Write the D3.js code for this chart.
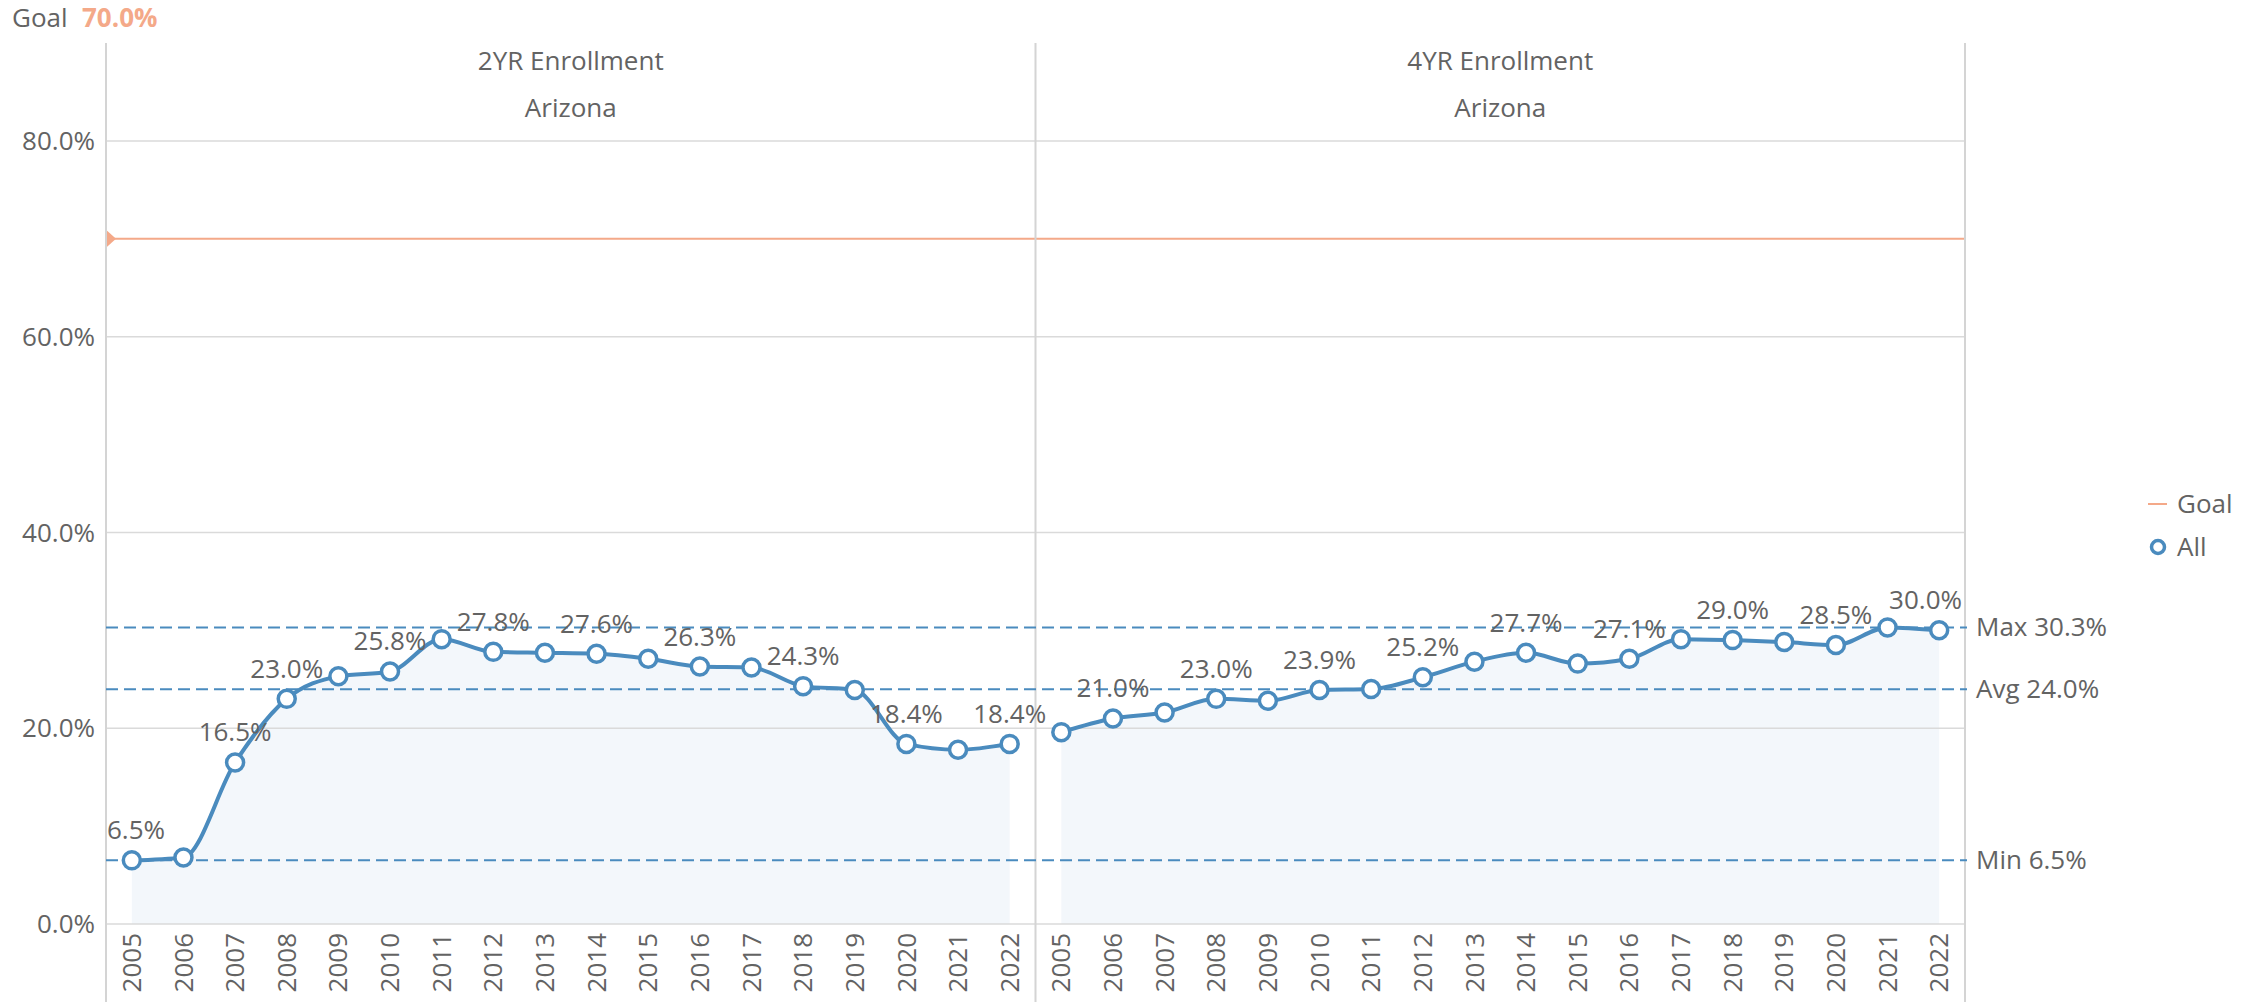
<html>
<head>
  <script src="https://d3js.org/d3.v7.min.js"></script>
  <style>
  body { margin: 0; background: #fff; }
  svg { display: block; font-family: "Open Sans", sans-serif; }
  .lbl { fill: #636363; font-size: 26px; }
  .grid line { stroke: #dadada; stroke-width: 1.5; }
  .vline { stroke: #d4d4d4; stroke-width: 2; }
  </style>
</head>
<body>
  <svg id="chart" width="2244" height="1002"></svg>
  <script>

var years = ["2005", "2006", "2007", "2008", "2009", "2010", "2011", "2012", "2013",
  "2014", "2015", "2016", "2017", "2018", "2019", "2020", "2021", "2022"];
var panels = ["2YR Enrollment", "4YR Enrollment"];
var state = "Arizona";
var enroll2yr = [6.5, 6.8, 16.5, 23.0, 25.3, 25.8, 29.1, 27.8, 27.7, 27.6, 27.1, 26.3, 26.2, 24.3, 23.9, 18.4, 17.8, 18.4];
var enroll4yr = [19.6, 21.0, 21.6, 23.0, 22.8, 23.9, 24.0, 25.2, 26.8, 27.7, 26.6, 27.1, 29.1, 29.0, 28.8, 28.5, 30.3, 30.0];
// years that get a value label (the rest are hidden to avoid overlap)
var labeled2yr = ["2005", "2007", "2008", "2010", "2012", "2014", "2016", "2018", "2020", "2022"];
var labeled4yr = ["2006", "2008", "2010", "2012", "2014", "2016", "2018", "2020", "2022"];
var goal = 70.0;
var yTicks = [0, 20, 40, 60, 80];

var blue = "#4a8bbe", salmon = "#f4a989";
var svg = d3.select("#chart");
var plotL = 106, plotR = 1965, plotT = 43, plotB = 924;

var y = d3.scaleLinear().domain([0, 90]).range([plotB, plotT]);
var facet = d3.scaleBand().domain(panels).range([plotL, plotR]);
var fmt = function(v) { return d3.format(".1f")(v) + "%"; };

var series = [enroll2yr, enroll4yr];
var labeled = [labeled2yr, labeled4yr];
var all = enroll2yr.concat(enroll4yr);
var stats = [
  {name: "Max", v: d3.max(all)},
  {name: "Avg", v: d3.mean(all)},
  {name: "Min", v: d3.min(all)}
];

function xFor(p) {
  return d3.scaleBand().domain(years).range([facet(p), facet(p) + facet.bandwidth()]);
}

// shaded areas first, grid goes on top of them
panels.forEach(function(p, i) {
  var x = xFor(p);
  var area = d3.area().curve(d3.curveMonotoneX)
    .x(function(d, j) { return x(years[j]) + x.bandwidth() / 2; })
    .y0(plotB).y1(function(d) { return y(d); });
  svg.append("path").datum(series[i]).attr("d", area).attr("fill", "#f3f7fb");
});

// gridlines
svg.append("g").attr("class", "grid")
  .selectAll("line").data(yTicks).enter().append("line")
  .attr("x1", plotL).attr("x2", plotR)
  .attr("y1", function(d) { return y(d); }).attr("y2", function(d) { return y(d); });

svg.append("g").selectAll("text").data(yTicks).enter().append("text")
  .attr("class", "lbl")
  .attr("x", 95).attr("y", function(d) { return y(d); })
  .attr("dy", "0.35em").attr("text-anchor", "end")
  .text(function(d) { return fmt(d); });

// goal line + marker
svg.append("line")
  .attr("x1", plotL).attr("x2", plotR)
  .attr("y1", y(goal)).attr("y2", y(goal))
  .attr("stroke", salmon).attr("stroke-width", 2);
svg.append("path")
  .attr("d", "M" + plotL + "," + (y(goal) - 9) + "L" + (plotL + 10) + "," + y(goal) + "L" + plotL + "," + (y(goal) + 9) + "Z")
  .attr("fill", salmon);

// vertical frame lines
[plotL].concat(panels.map(function(p) { return facet(p) + facet.bandwidth(); })).forEach(function(xv) {
  svg.append("line").attr("class", "vline")
    .attr("x1", xv).attr("x2", xv).attr("y1", plotT).attr("y2", 1002);
});

panels.forEach(function(p, i) {
  var x = xFor(p);
  var g = svg.append("g");

  g.append("text").attr("class", "lbl")
    .attr("x", facet(p) + facet.bandwidth() / 2).attr("y", 70)
    .attr("text-anchor", "middle").text(p);
  g.append("text").attr("class", "lbl")
    .attr("x", facet(p) + facet.bandwidth() / 2).attr("y", 117)
    .attr("text-anchor", "middle").text(state);

  // year ticks
  g.selectAll(".yr").data(years).enter().append("text")
    .attr("class", "lbl")
    .attr("transform", function(d) { return "translate(" + (x(d) + x.bandwidth() / 2) + ",933) rotate(-90)"; })
    .attr("dy", "0.35em").attr("text-anchor", "end")
    .text(function(d) { return d; });
});

// average / min / max reference lines
stats.forEach(function(s) {
  svg.append("line")
    .attr("x1", plotL).attr("x2", plotR + 2)
    .attr("y1", y(s.v)).attr("y2", y(s.v))
    .attr("stroke", blue).attr("stroke-width", 2)
    .attr("stroke-dasharray", "12,6");
  svg.append("text").attr("class", "lbl")
    .attr("x", 1976).attr("y", y(s.v)).attr("dy", "0.35em")
    .text(s.name + " " + fmt(s.v));
});

panels.forEach(function(p, i) {
  var x = xFor(p);
  var cx = function(d, j) { return x(years[j]) + x.bandwidth() / 2; };
  var data = series[i];
  var g = svg.append("g");

  var line = d3.line().curve(d3.curveMonotoneX)
    .x(cx).y(function(d) { return y(d); });
  g.append("path").datum(data).attr("d", line)
    .attr("fill", "none").attr("stroke", blue).attr("stroke-width", 4);

  g.selectAll("circle").data(data).enter().append("circle")
    .attr("cx", cx).attr("cy", function(d) { return y(d); })
    .attr("r", 8.5).attr("fill", "#fff")
    .attr("stroke", blue).attr("stroke-width", 3.5);

  var idx = d3.range(data.length).filter(function(j) { return labeled[i].indexOf(years[j]) >= 0; });
  g.selectAll(".val").data(idx).enter()
    .append("text")
    .attr("class", "lbl")
    .attr("y", function(j) { return y(data[j]) - 21; })
    .attr("text-anchor", "middle")
    .text(function(j) { return fmt(data[j]); })
    .attr("x", function(j) {
      var w = this.getComputedTextLength();
      var c = x(years[j]) + x.bandwidth() / 2;
      return Math.max(plotL + w / 2 + 1, Math.min(plotR - w / 2 - 3, c));
    });
});

// header + legend
svg.append("text").attr("class", "lbl").attr("x", 12).attr("y", 27).text("Goal");
svg.append("text").attr("x", 82).attr("y", 27)
  .style("font-size", "26px").style("font-weight", "bold").attr("fill", salmon)
  .text(fmt(goal));

svg.append("line").attr("x1", 2148).attr("x2", 2167).attr("y1", 504).attr("y2", 504)
  .attr("stroke", salmon).attr("stroke-width", 2);
svg.append("text").attr("class", "lbl").attr("x", 2177).attr("y", 504).attr("dy", "0.35em").text("Goal");
svg.append("circle").attr("cx", 2158).attr("cy", 547).attr("r", 6.5)
  .attr("fill", "#fff").attr("stroke", blue).attr("stroke-width", 3.5);
svg.append("text").attr("class", "lbl").attr("x", 2177).attr("y", 547).attr("dy", "0.35em").text("All");

  </script>
</body>
</html>
